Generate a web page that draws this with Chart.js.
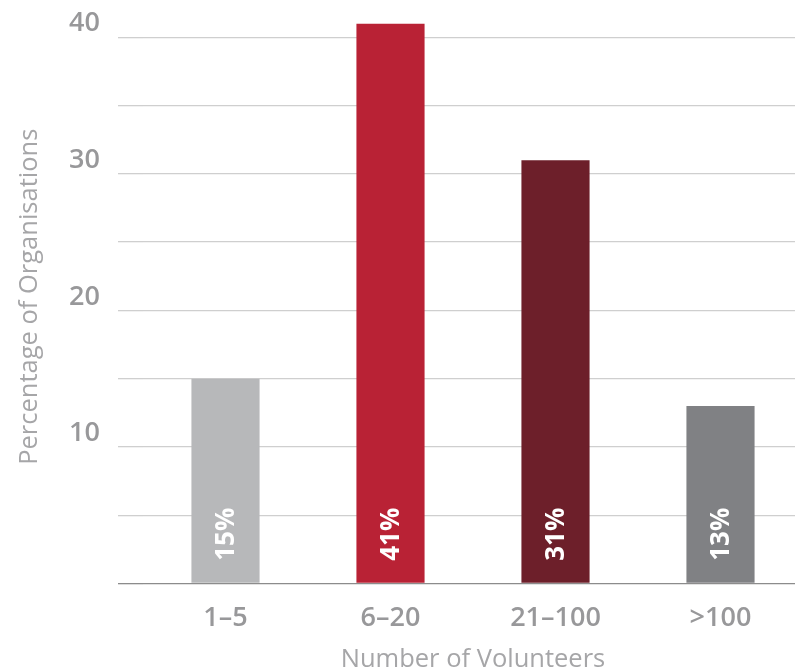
<!DOCTYPE html>
<html>
<head>
<meta charset="utf-8">
<script src="https://cdn.jsdelivr.net/npm/chart.js@4"></script>
<style>
  html, body { margin: 0; padding: 0; background: #fff; overflow: hidden; }
  #wrap { width: 803px; height: 672px; }
</style>
</head>
<body>
<div id="wrap"><canvas id="volChart"></canvas></div>
<script>
// Data
const categories = ['1–5', '6–20', '21–100', '>100'];
const percentages = [15, 41, 31, 13];
const barColors = ['#b7b8ba', '#b92235', '#6d1f2a', '#808184'];

// draws the rotated "xx%" labels inside each bar
const barLabels = {
  id: 'barLabels',
  afterDatasetsDraw(chart) {
    const ctx = chart.ctx;
    const meta = chart.getDatasetMeta(0);
    ctx.save();
    ctx.fillStyle = '#ffffff';
    ctx.font = 'bold 26px "Open Sans"';
    ctx.textAlign = 'left';
    ctx.textBaseline = 'middle';
    meta.data.forEach((bar, i) => {
      ctx.save();
      ctx.translate(bar.x + 1, bar.base - 22);
      ctx.rotate(-Math.PI / 2);
      ctx.fillText(percentages[i] + '%', 0, 0);
      ctx.restore();
    });
    ctx.restore();
  }
};

const ctx = document.getElementById('volChart').getContext('2d');

const volChart = new Chart(ctx, {
  type: 'bar',
  data: {
    labels: categories,
    datasets: [{
      data: percentages,
      backgroundColor: barColors,
      barPercentage: 0.413,
      categoryPercentage: 1
    }]
  },
  options: {
    responsive: true,
    maintainAspectRatio: false,
    animation: false,
    layout: { padding: { top: 10, right: 0, left: 0, bottom: 0 } },
    plugins: {
      legend: { display: false },
      tooltip: { enabled: false }
    },
    scales: {
      x: {
        grid: { display: false, drawTicks: false },
        border: { display: false },
        ticks: {
          color: '#98989a',
          padding: 19,
          font: { family: 'Open Sans', size: 27, weight: '600' }
        },
        title: {
          display: true,
          text: 'Number of Volunteers',
          color: '#a6a6a8',
          padding: { top: 0, bottom: -3 },
          font: { family: 'Open Sans', size: 25.5 }
        },
        afterFit: (scale) => { scale.height = 88.5; }
      },
      y: {
        min: 0,
        max: 42,
        border: { display: false },
        grid: {
          color: (c) => (c.tick && c.tick.value === 0 ? '#8c8c8c' : '#cfcfcf'),
          lineWidth: 1.3,
          tickLength: 25
        },
        ticks: {
          stepSize: 5,
          includeBounds: false,
          align: 'end',
          color: '#98989a',
          padding: 18,
          font: { family: 'Open Sans', size: 27, weight: '600' },
          callback: (value) => (value % 10 === 0 && value !== 0 ? value : '')
        },
        title: {
          display: true,
          text: 'Percentage of Organisations',
          color: '#a6a6a8',
          padding: { top: 14, bottom: 0 },
          font: { family: 'Open Sans', size: 25.5 }
        },
        afterFit: (scale) => {
          scale.width = 143;
          scale.paddingTop = 0;
          scale.paddingBottom = 0;
        }
      }
    }
  },
  plugins: [barLabels]
});
</script>
</body>
</html>
